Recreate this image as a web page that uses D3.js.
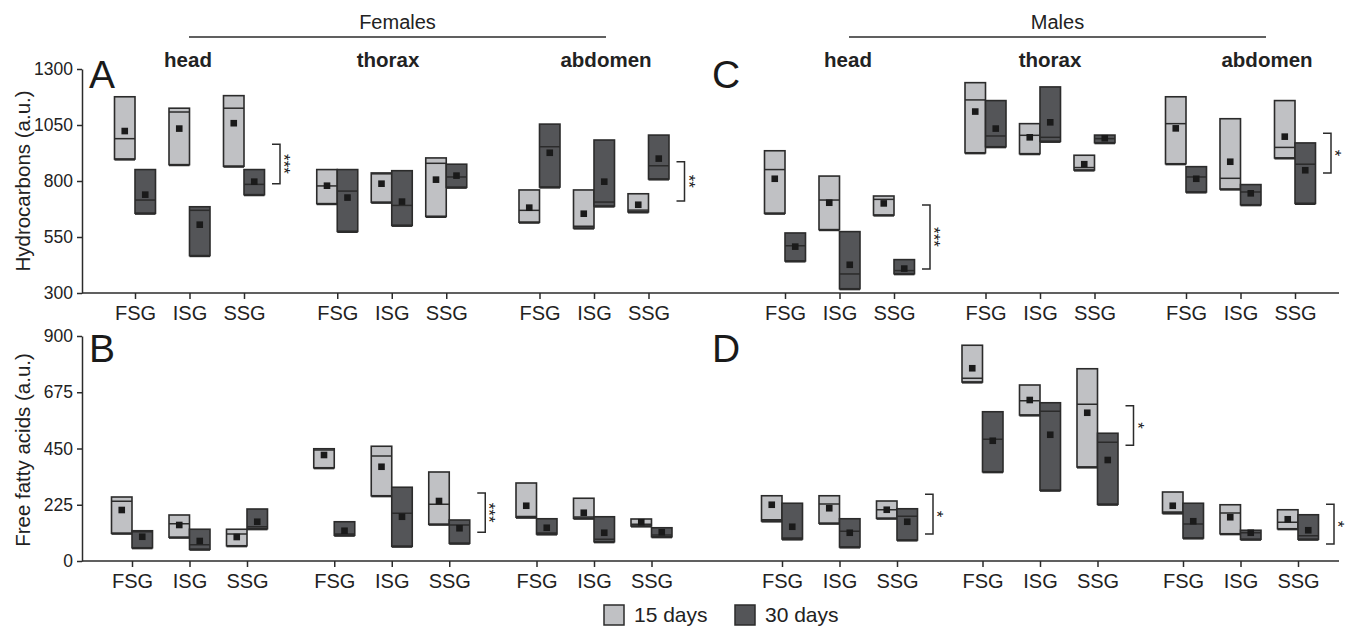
<!DOCTYPE html>
<html>
<head>
<meta charset="utf-8">
<script src="https://cdn.jsdelivr.net/npm/d3@7"></script>
<style>
  body { margin: 0; background: white; }
  svg { display: block; font-family: "Liberation Sans", Arial, sans-serif; }
</style>
</head>
<body>
<svg id="chart"></svg>
<script>
// categories
const parts = ["head", "thorax", "abdomen"];
const groups = ["FSG", "ISG", "SSG"];
const ages = ["15 days", "30 days"];

const hcTicks = [300, 550, 800, 1050, 1300];
const ffaTicks = [0, 225, 450, 675, 900];

// each row: [low, high, median, mean], order head/thorax/abdomen -> FSG/ISG/SSG -> 15d/30d
const hcFemales = [
  [898, 1176, 989, 1023], [656, 851, 715, 739],
  [873, 1125, 1108, 1034], [467, 685, 669, 605],
  [866, 1181, 1125, 1058], [739, 851, 785, 797],
  [699, 851, 778, 779], [575, 851, 755, 726],
  [705, 836, 832, 788], [602, 846, 691, 708],
  [642, 903, 879, 806], [772, 875, 818, 824],
  [616, 760, 669, 681], [773, 1054, 953, 926],
  [590, 760, 598, 654], [688, 983, 706, 797],
  [662, 743, 670, 694], [809, 1005, 868, 900]
];
const hcMales = [
  [656, 935, 851, 810], [443, 568, 511, 507],
  [583, 822, 715, 703], [319, 574, 385, 426],
  [648, 733, 718, 700], [386, 449, 400, 409],
  [926, 1239, 1162, 1110], [953, 1159, 1001, 1034],
  [922, 1056, 1004, 995], [977, 1220, 995, 1062],
  [849, 915, 860, 875], [971, 1005, 989, 991],
  [877, 1176, 1056, 1035], [751, 864, 818, 810],
  [764, 1078, 812, 886], [694, 784, 751, 745],
  [903, 1159, 950, 998], [700, 970, 875, 848]
];
const ffaFemales = [
  [111, 256, 239, 204], [53, 121, 117, 97],
  [95, 184, 149, 144], [47, 127, 65, 80],
  [61, 127, 108, 96], [129, 208, 137, 157],
  [373, 449, 444, 424], [103, 157, 108, 121],
  [261, 459, 420, 377], [59, 295, 191, 177],
  [147, 356, 227, 240], [71, 164, 144, 131],
  [175, 312, 178, 221], [108, 169, 112, 133],
  [171, 251, 176, 193], [77, 177, 87, 113],
  [140, 168, 147, 155], [97, 133, 104, 115]
];
const ffaMales = [
  [160, 261, 165, 225], [88, 231, 92, 137],
  [151, 261, 228, 211], [56, 169, 119, 113],
  [171, 240, 205, 205], [84, 209, 179, 157],
  [716, 863, 731, 771], [357, 597, 487, 481],
  [584, 704, 641, 644], [283, 633, 599, 505],
  [376, 769, 627, 593], [227, 511, 475, 404],
  [192, 276, 196, 221], [92, 231, 148, 159],
  [109, 225, 192, 175], [87, 123, 113, 113],
  [129, 205, 155, 167], [87, 185, 101, 123]
];

// significance brackets: [part, low, high, stars]
const sigHcFemales = [["head", 788, 964, "***"], ["abdomen", 711, 886, "**"]];
const sigHcMales = [["head", 407, 693, "***"], ["abdomen", 836, 1013, "*"]];
const sigFfaFemales = [["thorax", 115, 272, "***"]];
const sigFfaMales = [["head", 108, 267, "*"], ["thorax", 463, 621, "*"], ["abdomen", 68, 227, "*"]];

const width = 1346;
const height = 626;
const lightFill = "#c0c1c4";
const darkFill = "#545558";
const ink = "#2b2b2b";
const boxW = 20.5;

let svg = d3.select("#chart")
  .attr("width", width)
  .attr("height", height);

// rows (top = hydrocarbons, bottom = free fatty acids)
let rows = [
  {domain: [300, 1300], range: [293, 69], ticks: hcTicks, step: 54.5, letterY: 88,
   title: "Hydrocarbons (a.u.)", titleY: 181},
  {domain: [0, 900], range: [561, 336], ticks: ffaTicks, step: 57.5, letterY: 362,
   title: "Free fatty acids (a.u.)", titleY: 450}
];
rows.forEach(r => r.y = d3.scaleLinear().domain(r.domain).range(r.range));

let cols = [
  {centers: [189.5, 594], letter: ["A", "B"], letterX: 89, sex: "Females",
   lineX: [189, 606], labelX: [188, 388, 606]},
  {centers: [839.5, 1240.5], letter: ["C", "D"], letterX: 712, sex: "Males",
   lineX: [849, 1266], labelX: [848, 1050, 1267]}
];

let panels = [
  {row: 0, col: 0, data: hcFemales, sig: sigHcFemales},
  {row: 0, col: 1, data: hcMales, sig: sigHcMales},
  {row: 1, col: 0, data: ffaFemales, sig: sigFfaFemales},
  {row: 1, col: 1, data: ffaMales, sig: sigFfaMales}
];

function makeX(col, row){
  let part = d3.scaleLinear().domain([0, 2]).range(cols[col].centers);
  let grp = d3.scaleLinear().domain([0, 2]).range([-rows[row].step, rows[row].step]);
  return (p, g) => part(parts.indexOf(p)) + grp(groups.indexOf(g));
}

// y axes and long x axis lines
rows.forEach((r, ri) => {
  let yAxis = d3.axisLeft(r.y)
    .tickValues(r.ticks)
    .tickFormat(d3.format("d"))
    .tickSize(5).tickPadding(4).tickSizeOuter(0);
  let g = svg.append("g")
    .attr("transform", "translate(82,0)")
    .call(yAxis);
  g.select(".domain").attr("stroke", ink).attr("stroke-width", 1.5);
  g.selectAll(".tick line").attr("stroke", ink).attr("stroke-width", 1.5);
  g.selectAll(".tick text").attr("fill", "#222").style("font-size", "17.5px");

  svg.append("line")
    .attr("x1", 82).attr("x2", 1339)
    .attr("y1", r.range[0]).attr("y2", r.range[0])
    .attr("stroke", ink).attr("stroke-width", 1.5);

  svg.append("text")
    .attr("transform", `translate(30,${r.titleY}) rotate(-90)`)
    .attr("text-anchor", "middle")
    .attr("fill", "#222")
    .style("font-size", "20.5px")
    .text(r.title);
});

// headers
cols.forEach(c => {
  svg.append("text")
    .attr("x", (c.lineX[0] + c.lineX[1]) / 2).attr("y", 29)
    .attr("text-anchor", "middle")
    .attr("fill", "#222")
    .style("font-size", "20px")
    .text(c.sex);
  svg.append("line")
    .attr("x1", c.lineX[0]).attr("x2", c.lineX[1])
    .attr("y1", 37).attr("y2", 37)
    .attr("stroke", ink).attr("stroke-width", 1.5);
  svg.selectAll(null)
    .data(parts)
    .enter()
    .append("text")
    .attr("x", (d, i) => c.labelX[i])
    .attr("y", 67)
    .attr("text-anchor", "middle")
    .attr("font-weight", "bold")
    .attr("fill", "#222")
    .style("font-size", "20.5px")
    .text(d => d);
});

panels.forEach(p => {
  let r = rows[p.row];
  let c = cols[p.col];
  let y = r.y;
  let xPos = makeX(p.col, p.row);
  let g = svg.append("g");

  // x ticks through an ordinal scale
  let keys = [];
  parts.forEach(pt => groups.forEach(gr => keys.push(pt + "|" + gr)));
  let xTick = d3.scaleOrdinal()
    .domain(keys)
    .range(keys.map(k => xPos(k.split("|")[0], k.split("|")[1])));
  let xAxis = d3.axisBottom(xTick)
    .tickSize(6).tickSizeOuter(0).tickPadding(7)
    .tickFormat(k => k.split("|")[1]);
  let ax = g.append("g")
    .attr("transform", `translate(0,${r.range[0]})`)
    .call(xAxis);
  ax.select(".domain").remove();
  ax.selectAll(".tick line").attr("stroke", ink).attr("stroke-width", 1.5);
  ax.selectAll(".tick text").attr("fill", "#222").style("font-size", "20px");

  // boxes
  let boxes = [];
  p.data.forEach((v, i) => {
    boxes.push({
      part: parts[Math.floor(i / 6)],
      group: groups[Math.floor(i / 2) % 3],
      age: i % 2,
      lo: v[0], hi: v[1], med: v[2], mean: v[3]
    });
  });
  let bx = d => xPos(d.part, d.group) + (d.age === 0 ? -boxW : 0);

  let bg = g.selectAll(".box")
    .data(boxes)
    .enter()
    .append("g")
    .attr("class", "box");
  bg.append("rect")
    .attr("x", bx)
    .attr("y", d => y(d.hi))
    .attr("width", boxW)
    .attr("height", d => y(d.lo) - y(d.hi))
    .attr("fill", d => d.age === 0 ? lightFill : darkFill)
    .attr("stroke", ink)
    .attr("stroke-width", 1.6);
  bg.append("line")
    .attr("x1", bx).attr("x2", d => bx(d) + boxW)
    .attr("y1", d => y(d.lo) + 0.5).attr("y2", d => y(d.lo) + 0.5)
    .attr("stroke", ink).attr("stroke-width", 2.2);
  bg.append("line")
    .attr("x1", bx).attr("x2", d => bx(d) + boxW)
    .attr("y1", d => y(d.med)).attr("y2", d => y(d.med))
    .attr("stroke", ink).attr("stroke-width", 1.5);
  bg.append("rect")
    .attr("x", d => bx(d) + boxW / 2 - 3.3)
    .attr("y", d => y(d.mean) - 3.3)
    .attr("width", 6.6).attr("height", 6.6)
    .attr("fill", "#1a1a1a");

  // significance brackets
  p.sig.forEach(s => {
    let bxr = xPos(s[0], "SSG") + 36;
    let y1 = y(s[2]), y2 = y(s[1]);
    g.append("path")
      .attr("d", `M${bxr - 8},${y1}H${bxr}V${y2}H${bxr - 8}`)
      .attr("fill", "none")
      .attr("stroke", ink)
      .attr("stroke-width", 1.5);
    g.append("text")
      .attr("transform", `translate(${bxr - 2},${(y1 + y2) / 2}) rotate(90)`)
      .attr("text-anchor", "middle")
      .attr("fill", "#222")
      .style("font-size", "17px")
      .text(s[3]);
  });

  // panel letter
  svg.append("text")
    .attr("x", c.letterX).attr("y", r.letterY)
    .attr("fill", "#1a1a1a")
    .style("font-size", "39px")
    .text(c.letter[p.row]);
});

// legend
let legend = svg.append("g").attr("transform", "translate(604,605)");
let li = legend.selectAll("g")
  .data(ages)
  .enter()
  .append("g")
  .attr("transform", (d, i) => `translate(${i * 131},0)`);
li.append("rect")
  .attr("width", 20).attr("height", 20)
  .attr("fill", (d, i) => i === 0 ? lightFill : darkFill)
  .attr("stroke", ink).attr("stroke-width", 1.5);
li.append("text")
  .attr("x", 30).attr("y", 17)
  .attr("fill", "#222")
  .style("font-size", "21px")
  .text(d => d);
</script>
</body>
</html>
